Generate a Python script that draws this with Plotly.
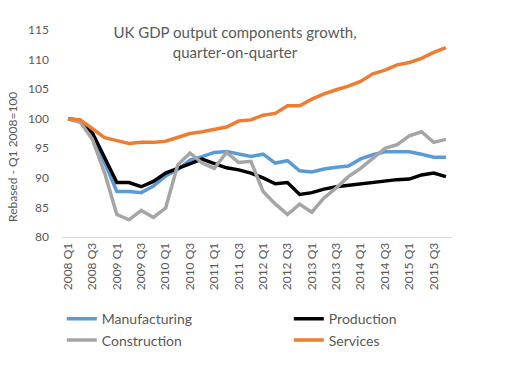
import plotly.graph_objects as go

quarters = [f"{y} Q{q}" for y in range(2008, 2016) for q in range(1, 5)]

manufacturing = [100, 99.5, 97.4, 92.4, 87.7, 87.7, 87.5, 88.6, 90.3, 91.4,
                 93.0, 93.6, 94.3, 94.45, 94.0, 93.6, 94.0, 92.5, 92.9, 91.2,
                 91.0, 91.5, 91.8, 92.0, 93.2, 93.9, 94.4, 94.4, 94.4, 94.0,
                 93.5, 93.5]
production = [100, 99.7, 97.6, 93.3, 89.2, 89.2, 88.5, 89.4, 90.8, 91.6,
              92.4, 93.15, 92.4, 91.7, 91.35, 90.8, 90.0, 89.0, 89.2, 87.2,
              87.5, 88.1, 88.5, 88.75, 89.0, 89.2, 89.55, 89.7, 89.8, 90.5,
              90.8, 90.2]
construction = [100, 99.4, 96.5, 90.8, 83.8, 82.9, 84.5, 83.3, 84.9, 92.2,
                94.2, 92.5, 91.6, 94.3, 92.6, 92.8, 87.7, 85.6, 83.8, 85.55,
                84.2, 86.6, 88.3, 90.2, 91.6, 93.3, 95.0, 95.6, 97.1, 97.8,
                96.0, 96.5]
services = [100, 99.8, 98.3, 96.8, 96.3, 95.8, 96.0, 96.0, 96.2, 96.9,
            97.5, 97.8, 98.2, 98.6, 99.6, 99.8, 100.6, 100.9, 102.2, 102.2,
            103.3, 104.2, 104.9, 105.5, 106.3, 107.6, 108.2, 109.1, 109.5, 110.2,
            111.2, 112.0]

series = [
    ("Manufacturing", manufacturing, "#5B9BD5"),
    ("Production", production, "#000000"),
    ("Construction", construction, "#A5A5A5"),
    ("Services", services, "#ED7D31"),
]

FONT = "Lato"
GREY = "#595959"

fig = go.Figure()
for name, vals, color in series:
    fig.add_trace(go.Scatter(x=quarters, y=vals, name=name, mode="lines",
                             line=dict(color=color, width=3.5)))

fig.update_layout(
    width=506, height=374,
    margin=dict(l=62, r=54, t=30, b=137, autoexpand=False),
    paper_bgcolor="white", plot_bgcolor="white",
    font=dict(family=FONT, color=GREY, size=12),
    title=dict(text="UK GDP output components growth,<br>quarter-on-quarter",
               x=235/506, xanchor="center", xref="container",
               y=1 - 38/374, yanchor="top", yref="container",
               font=dict(family=FONT, size=15, color=GREY)),
    showlegend=True,
    legend=dict(orientation="h", x=-0.0005, xanchor="left", y=-0.32, yanchor="top",
                entrywidth=182, entrywidthmode="pixels",
                font=dict(family=FONT, size=14, color=GREY),
                tracegroupgap=0, itemwidth=30),
    xaxis=dict(type="category", tickvals=quarters[::2], ticktext=quarters[::2],
               tickangle=-90, showgrid=False, showline=True, linecolor="#D9D9D9",
               linewidth=1, ticks="", tickfont=dict(family=FONT, size=12, color=GREY),
               range=[-0.5, len(quarters) - 0.5]),
    yaxis=dict(range=[80, 115], dtick=5, tick0=80, showgrid=False, zeroline=False,
               showline=False, ticks="", ticklabelstandoff=12,
               tickfont=dict(family=FONT, size=12, color=GREY)),
)

fig.add_annotation(text="Rebased - Q1 2008=100", textangle=-90,
                   xref="paper", yref="paper", x=-50/390, y=(237-157)/207,
                   xanchor="center", yanchor="middle", showarrow=False,
                   font=dict(family=FONT, size=12, color=GREY))

fig.write_html("out.html", config={"displayModeBar": False},
               post_script="document.body.style.margin='0';")
